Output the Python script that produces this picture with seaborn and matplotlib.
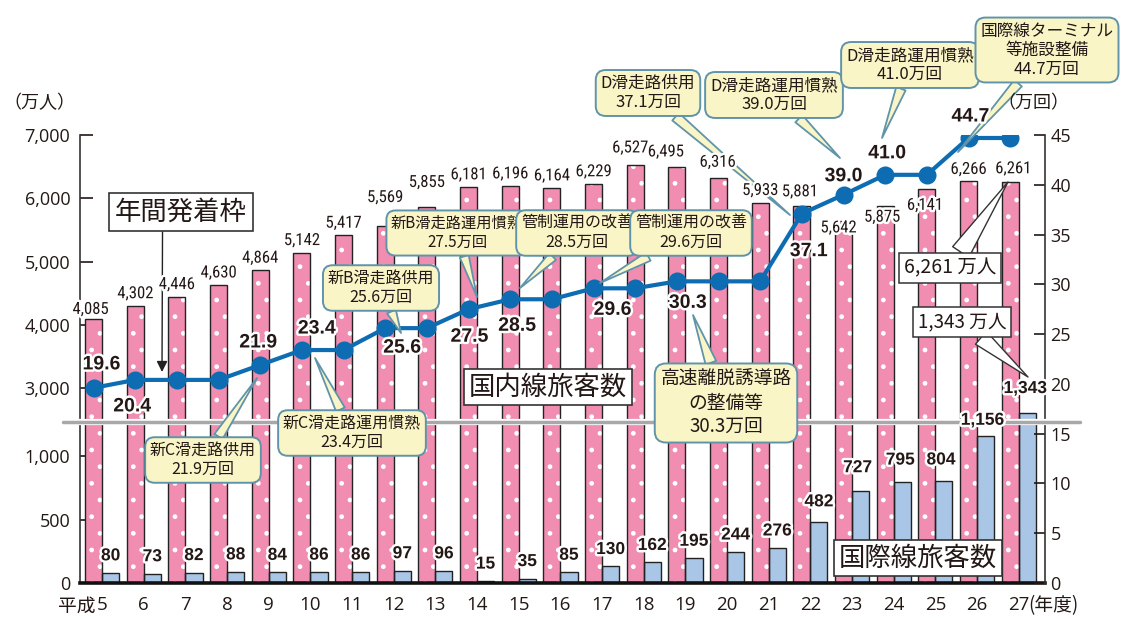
import numpy as np
import pandas as pd
import matplotlib
matplotlib.use("Agg")
import matplotlib.pyplot as plt
import matplotlib.patheffects as pe
from matplotlib import font_manager
from matplotlib.patches import Rectangle
import seaborn as sns

# ---------------- data ----------------
years = ["5", "6", "7", "8", "9", "10", "11", "12", "13", "14", "15", "16",
         "17", "18", "19", "20", "21", "22", "23", "24", "25", "26", "27"]
domestic = [4085, 4302, 4446, 4630, 4864, 5142, 5417, 5569, 5855, 6181, 6196, 6164,
            6229, 6527, 6495, 6316, 5933, 5881, 5642, 5875, 6141, 6266, 6261]
international = [80, 73, 82, 88, 84, 86, 86, 97, 96, 15, 35, 85,
                 130, 162, 195, 244, 276, 482, 727, 795, 804, 1156, 1343]
slots = [19.6, 20.4, 20.4, 20.4, 21.9, 23.4, 23.4, 25.6, 25.6, 27.5, 28.5, 28.5,
         29.6, 29.6, 30.3, 30.3, 30.3, 37.1, 39.0, 41.0, 41.0, 44.7, 44.7]
left_ticks = [0, 500, 1000, 3000, 4000, 5000, 6000, 7000]
left_ticklabels = ["0", "500", "1,000", "3,000", "4,000", "5,000", "6,000", "7,000"]
right_ticks = [0, 5, 10, 15, 20, 25, 30, 35, 40, 45]
slot_label_idx = [0, 1, 4, 5, 7, 9, 10, 12, 14, 17, 18, 19, 21]
callout_texts = [
    "新C滑走路供用\n21.9万回",
    "新C滑走路運用慣熟\n23.4万回",
    "新B滑走路供用\n25.6万回",
    "新B滑走路運用慣熟\n27.5万回",
    "管制運用の改善\n28.5万回",
    "管制運用の改善\n29.6万回",
    "高速離脱誘導路\nの整備等\n30.3万回",
    "D滑走路供用\n37.1万回",
    "D滑走路運用慣熟\n39.0万回",
    "D滑走路運用慣熟\n41.0万回",
    "国際線ターミナル\n等施設整備\n44.7万回",
]
series_names = ["国内線旅客数", "国際線旅客数"]

# ---------------- style ----------------
PINK = "#F08DB0"
BLUE = "#AAC6E6"
LINE = "#0E6DB2"
YEL = "#FAF5C6"
BORDER = "#5F94AA"
TXT = "#231815"

sns.set_theme(style="white")
plt.rcParams["font.family"] = ["Noto Sans CJK JP", "DejaVu Sans"]
plt.rcParams["hatch.color"] = "white"
plt.rcParams["hatch.linewidth"] = 1.0

avail = {f.name for f in font_manager.fontManager.ttflist}
NARROW = next((f for f in ["Liberation Sans Narrow", "Roboto Condensed", "Liberation Sans"] if f in avail), "DejaVu Sans")
BOLDF = "Liberation Sans" if "Liberation Sans" in avail else "DejaVu Sans"
TICKF = "Open Sans" if "Open Sans" in avail else "DejaVu Sans"

halo = [pe.withStroke(linewidth=3.5, foreground="white")]

# broken left scale (lower: 0-1400, upper: 3000-7000)
LOW_K = 0.01275
BRK_LO, BRK_HI = 1400.0, 3000.0
U_LO = BRK_LO * LOW_K
U_HI = 19.58
UP_K = (45.0 - U_HI) / 4000.0


def fwd(v):
    v = np.asarray(v, dtype=float)
    mid = U_LO + (v - BRK_LO) * (U_HI - U_LO) / (BRK_HI - BRK_LO)
    up = U_HI + (v - BRK_HI) * UP_K
    return np.where(v <= BRK_LO, v * LOW_K, np.where(v <= BRK_HI, mid, up))


def inv(u):
    u = np.asarray(u, dtype=float)
    mid = BRK_LO + (u - U_LO) * (BRK_HI - BRK_LO) / (U_HI - U_LO)
    up = BRK_HI + (u - U_HI) / UP_K
    return np.where(u <= U_LO, u / LOW_K, np.where(u <= U_HI, mid, up))


W, H = 1127, 619
X0, X1, Y0, Y1 = 80, 1045, 583, 135
fig = plt.figure(figsize=(W / 100, H / 100), dpi=100)
ax = fig.add_axes([X0 / W, (H - Y0) / H, (X1 - X0) / W, (Y0 - Y1) / H])
ax.set_yscale("function", functions=(fwd, inv))


def axfrac(px, py):
    return ((px - X0) / (X1 - X0), (Y0 - py) / (Y0 - Y1))


PT = 0.72  # px -> pt

df = pd.DataFrame({
    "year": years * 2,
    "series": [series_names[0]] * len(years) + [series_names[1]] * len(years),
    "value": domestic + international,
})
sns.barplot(data=df, x="year", y="value", hue="series", hue_order=series_names,
            palette=[PINK, BLUE], width=0.82, dodge=True, errorbar=None,
            saturation=1, legend=False, edgecolor="#222222", linewidth=1.0, ax=ax)

pink_bars = ax.containers[0]
blue_bars = ax.containers[1]
for p in pink_bars:
    p.set_hatch(".")
    p.set_edgecolor("white")
    p.set_linewidth(0)
    ax.add_patch(Rectangle(p.get_xy(), p.get_width(), p.get_height(), fill=False,
                           ec="#222222", lw=1.0, zorder=p.get_zorder() + 0.1))

ax.set_ylim(0, 7000)
ax.set_yticks(left_ticks)
ax.set_yticklabels(left_ticklabels)
ax.set_xlabel("")
ax.set_ylabel("")
ax.tick_params(axis="y", direction="in", length=9, width=1.2, pad=7,
               labelsize=13, colors=TXT, left=True, right=False)
ax.tick_params(axis="x", length=0, pad=9, labelsize=13.5, colors=TXT)
for t in ax.get_yticklabels() + ax.get_xticklabels():
    t.set_fontfamily(TICKF)
for s in ["top", "right"]:
    ax.spines[s].set_visible(False)
ax.spines["left"].set_color("#333333")
ax.spines["left"].set_linewidth(1.2)
ax.spines["bottom"].set_color("#111111")
ax.spines["bottom"].set_linewidth(2.6)
ax.spines["bottom"].set_zorder(6)

# ---------------- line (right axis) ----------------
ax2 = ax.twinx()
xs = [p.get_x() + p.get_width() / 2 for p in pink_bars]
sns.lineplot(x=xs, y=slots, ax=ax2, color=LINE, lw=3, marker="o",
             markersize=13, markeredgewidth=0, zorder=5)
ax2.set_ylim(0, 45)
ax2.set_yticks(right_ticks)
ax2.set_ylabel("")
ax2.tick_params(axis="y", direction="in", length=8, width=1.2, pad=4,
                labelsize=13, colors=TXT, right=True, left=False)
for t in ax2.get_yticklabels():
    t.set_fontfamily(TICKF)
for s in ["top", "left", "bottom"]:
    ax2.spines[s].set_visible(False)
ax2.spines["right"].set_color("#333333")
ax2.spines["right"].set_linewidth(1.2)
ax.set_xlim(-0.53, len(years) - 1 + 0.63)

# axis break
ax2.axhline((Y0 - 422) / (Y0 - Y1) * 45, xmin=-0.018, xmax=1.036, color="#A8A8A8",
            lw=2.5, clip_on=False, zorder=3,
            path_effects=[pe.withStroke(linewidth=4.5, foreground="white")])

# ---------------- value labels ----------------
dom_off = {0: (-3, 10), 7: (0, 28), 8: (0, 25), 13: (-5, 17), 14: (-11, 15),
           15: (-1, 16), 17: (-2, 14), 18: (-5, -7), 19: (-3, -11), 20: (-2, -16),
           22: (3, 13)}
for i, p in enumerate(pink_bars):
    dx, dy = dom_off.get(i, (0, 12))
    ax2.annotate(f"{domestic[i]:,}", xy=(p.get_x() + p.get_width() / 2, domestic[i]),
                 xycoords=ax.transData, xytext=(dx * PT, dy * PT), textcoords="offset points",
                 ha="center", va="center", fontsize=12, family=NARROW, color=TXT,
                 path_effects=halo, zorder=9)

int_off = {17: (0, 20), 18: (-3, 23), 19: (-2, 22), 20: (-3, 21), 21: (-3, 16), 22: (-2, 24)}
for i, p in enumerate(blue_bars):
    dx, dy = int_off.get(i, (0, 17))
    ax2.annotate(f"{international[i]:,}", xy=(p.get_x() + p.get_width() / 2, international[i]),
                 xycoords=ax.transData, xytext=(dx * PT, dy * PT), textcoords="offset points",
                 ha="center", va="center", fontsize=12.5, family=BOLDF, weight="bold",
                 color=TXT, path_effects=halo, zorder=9)

slot_off = {0: (8, 23), 1: (-3, -27), 4: (-2, 22), 5: (15, 21), 7: (17, -20), 9: (1, -28),
            10: (7, -27), 12: (19, -22), 14: (11, -22), 17: (7, -38), 18: (0, 18),
            19: (2, 21), 21: (2, 21)}
for i in slot_label_idx:
    dx, dy = slot_off[i]
    ax2.annotate(f"{slots[i]:.1f}", xy=(xs[i], slots[i]), xytext=(dx * PT, dy * PT),
                 textcoords="offset points", ha="center", va="center", fontsize=14,
                 family=BOLDF, weight="bold", color=TXT, path_effects=halo, zorder=9)

# ---------------- callouts ----------------
callout_pos = [((203, 460), (257, 378), 11.5),
               ((352, 433), (315, 358), 11.5),
               ((381, 288), (401, 333), 11.5),
               ((457, 233), (477, 297), 11),
               ((577, 233), (520, 288), 11.5),
               ((691, 233), (600, 283), 11.5),
               ((726, 403), (693, 315), 13.5),
               ((648, 93), (790, 215), 12),
               ((774, 95), (840, 158), 12),
               ((910, 65), (882, 138), 12),
               ((1047, 50), (958, 152), 12)]
for txt, ((tx, ty), (hx, hy), fs) in zip(callout_texts, callout_pos):
    ax2.annotate(txt, xy=axfrac(hx, hy), xycoords="axes fraction",
                 xytext=axfrac(tx, ty), textcoords="axes fraction",
                 ha="center", va="center", fontsize=fs, linespacing=1.15, color=TXT,
                 bbox=dict(boxstyle="round,pad=0.3,rounding_size=0.6", fc=YEL, ec=BORDER, lw=1.4),
                 arrowprops=dict(arrowstyle="wedge,tail_width=0.6,shrink_factor=0.5",
                                 fc=YEL, ec=BORDER, lw=1.3, shrinkA=0, shrinkB=0),
                 annotation_clip=False, zorder=8)

# white label boxes
ax2.annotate("年間発着枠", xy=axfrac(162, 372), xycoords="axes fraction",
             xytext=axfrac(181, 212), textcoords="axes fraction",
             ha="center", va="center", fontsize=19, color=TXT,
             bbox=dict(boxstyle="square,pad=0.22", fc="white", ec="#333333", lw=1.2),
             arrowprops=dict(arrowstyle="-|>", color="#222222", lw=1.0, mutation_scale=16,
                             shrinkA=0, shrinkB=0, relpos=(0.36, 0.0)),
             annotation_clip=False, zorder=8)
for name, (tx, ty) in zip(series_names, [(548, 387), (918, 558)]):
    ax2.text(*axfrac(tx, ty), name, transform=ax2.transAxes, ha="center", va="center",
             fontsize=19, color=TXT, zorder=8,
             bbox=dict(boxstyle="square,pad=0.18", fc="white", ec="#333333", lw=1.2))

ax2.annotate(f"{domestic[-1]:,} 万人", xy=axfrac(1008, 182), xycoords="axes fraction",
             xytext=axfrac(950, 268), textcoords="axes fraction",
             ha="center", va="center", fontsize=14, color=TXT,
             bbox=dict(boxstyle="square,pad=0.25", fc="white", ec="#333333", lw=1.1),
             arrowprops=dict(arrowstyle="wedge,tail_width=1.0,shrink_factor=0.5",
                             fc="white", ec="#333333", lw=1.0, shrinkA=0, shrinkB=0),
             annotation_clip=False, zorder=8)
ax2.annotate(f"{international[-1]:,} 万人", xy=axfrac(1028, 377), xycoords="axes fraction",
             xytext=axfrac(962, 322), textcoords="axes fraction",
             ha="center", va="center", fontsize=13.5, color=TXT,
             bbox=dict(boxstyle="square,pad=0.25", fc="white", ec="#333333", lw=1.1),
             arrowprops=dict(arrowstyle="wedge,tail_width=0.9,shrink_factor=0.5",
                             fc="white", ec="#333333", lw=1.0, shrinkA=0, shrinkB=0),
             annotation_clip=False, zorder=8)

# axis unit labels
fig.text(39 / W, 1 - 103 / H, "（万人）", ha="center", va="center", fontsize=13, color=TXT)
fig.text(1033 / W, 1 - 103 / H, "（万回）", ha="center", va="center", fontsize=13, color=TXT)
ax.annotate("平成", xy=(0, 0), xycoords=("data", "axes fraction"), xytext=(-5, -9),
            textcoords="offset points", ha="right", va="top", fontsize=13.5, color=TXT,
            annotation_clip=False)
ax.annotate("(年度)", xy=(len(years) - 1, 0), xycoords=("data", "axes fraction"),
            xytext=(7, -9), textcoords="offset points", ha="left", va="top",
            fontsize=13.5, color=TXT, annotation_clip=False)

fig.savefig("out.png", dpi=100)
